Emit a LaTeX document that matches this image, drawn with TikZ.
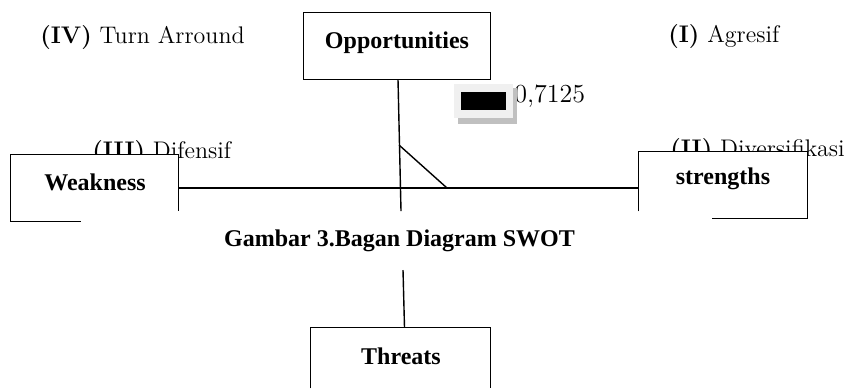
\documentclass[tikz,border=0pt]{standalone}
\usepackage{fontspec}
\newfontfamily\tnr{Liberation Serif}
\usetikzlibrary{calc}
\definecolor{lightbox}{HTML}{F0F0F0}
\definecolor{shadowbox}{HTML}{C0C0C0}
\begin{document}
\begin{tikzpicture}[x=0.5pt,y=-0.5pt,
  ln/.style={line width=0.7pt},
  lbl/.style={inner sep=0, anchor=base west, font=\fontsize{12}{14}\selectfont},
  boxtxt/.style={inner sep=0, anchor=base, font=\tnr\bfseries\fontsize{12}{14}\selectfont},
  boxarea/.style={rectangle, fill=white, inner sep=0, minimum height=33pt}]
\useasboundingbox[fill=white] (0,0) rectangle (855,388);

% quadrant labels
\node[lbl] (q4) at (40,43) {\textbf{(IV)} Turn Arround};
\node[lbl] (q1) at (668,42) {\textbf{(I)} Agresif};
\node[lbl] (q3) at (92,158.5) {\textbf{(III)} Difensif};
\node[lbl] (q2) at (670,156) {\textbf{(II)} Diversifikasi};
\node[lbl, font=\fontsize{13}{15}\selectfont] (val) at (514,102) {0,7125};

% legend marker
\fill[shadowbox] (458,88) rectangle (517,124);
\fill[lightbox] (454,84) rectangle (513,118);
\fill[black] (461,92) rectangle (506,110);

% boxes
\node[boxarea, minimum width=93pt] (O) at (397,46) {};
\node[boxarea, minimum width=83.5pt] (W) at (94.5,188) {};
\node[boxarea, minimum width=84pt] (S) at (723,185) {};
\node[boxarea, minimum width=89.5pt] (T) at (400.5,361) {};

\node[boxtxt] (Ot) at (397,48) {Opportunities};
\node[boxtxt] (Wt) at (95,190) {Weakness};
\node[boxtxt] (St) at (723,184) {strengths};
\node[boxtxt] (Tt) at (401,364) {Threats};

\node[boxtxt] (cap) at (399.5,246) {Gambar 3.Bagan Diagram SWOT};

% outlines
\draw[ln] (O.north west) rectangle (O.south east);
\draw[ln] ($(W.south west)+(70,0)$) -- (W.south west) -- (W.north west) -- (W.north east) -- ($(W.south east)+(0,-10)$);
\draw[ln] ($(S.south west)+(0,-7)$) -- (S.north west) -- (S.north east) -- (S.south east) -- ($(S.south west)+(73,0)$);
\draw[ln] ($(T.south west)+(0,-6)$) -- (T.north west) -- (T.north east) -- ($(T.south east)+(0,-6)$);

% connectors
\coordinate (vend) at (401,211);
\draw[ln] ([xshift=0.5pt]O.south) -- (vend);
\draw[ln] (W.east) -- (W.east -| S.west);
\coordinate (d1) at (399,145);
\coordinate (d2) at (447,188);
\draw[ln] (d1) -- (d2);
\coordinate (tl) at (403,270);
\draw[ln] (tl) -- ([xshift=2pt]T.north);
\end{tikzpicture}
\end{document}
